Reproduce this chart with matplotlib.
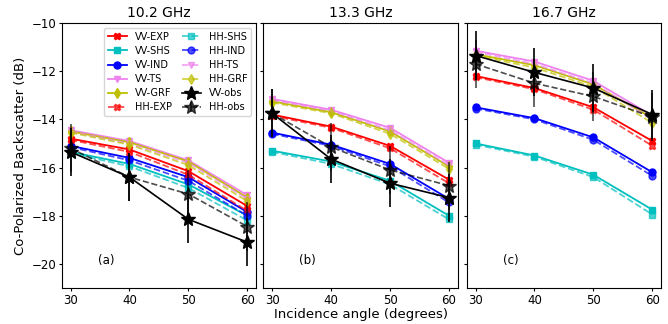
import matplotlib
matplotlib.use("Agg")
import matplotlib.pyplot as plt

# incidence angles and frequencies
angles = [30, 40, 50, 60]
freqs = ["10.2 GHz", "13.3 GHz", "16.7 GHz"]
panel_tags = ["(a)", "(b)", "(c)"]

# backscatter (dB), one row per frequency
VV_EXP = [[-14.8, -15.25, -16.15, -17.6], [-13.8, -14.3, -15.1, -16.5], [-12.2, -12.7, -13.5, -14.9]]
VV_SHS = [[-15.35, -15.85, -16.7, -18.0], [-15.3, -15.75, -16.55, -18.0], [-15.0, -15.5, -16.3, -17.75]]
VV_IND = [[-15.1, -15.6, -16.4, -17.85], [-14.55, -15.05, -15.85, -17.3], [-13.5, -13.95, -14.75, -16.2]]
VV_TS = [[-14.45, -14.9, -15.7, -17.15], [-13.15, -13.6, -14.35, -15.8], [-11.15, -11.6, -12.4, -13.85]]
VV_GRF = [[-14.5, -14.95, -15.75, -17.25], [-13.25, -13.7, -14.5, -15.95], [-11.3, -11.75, -12.55, -13.95]]
HH_EXP = [[-14.85, -15.35, -16.3, -17.8], [-13.85, -14.35, -15.2, -16.65], [-12.25, -12.75, -13.6, -15.1]]
HH_SHS = [[-15.4, -15.95, -16.85, -18.2], [-15.35, -15.85, -16.7, -18.15], [-15.05, -15.55, -16.4, -17.95]]
HH_IND = [[-15.15, -15.7, -16.55, -18.0], [-14.6, -15.1, -15.95, -17.45], [-13.55, -14.0, -14.85, -16.35]]
HH_TS = [[-14.5, -15.0, -15.8, -17.3], [-13.2, -13.65, -14.45, -15.9], [-11.2, -11.7, -12.5, -14.0]]
HH_GRF = [[-14.55, -15.05, -15.9, -17.4], [-13.3, -13.75, -14.6, -16.05], [-11.35, -11.85, -12.65, -14.15]]
VV_obs = [[-15.35, -16.4, -18.15, -19.1], [-13.75, -15.65, -16.65, -17.25], [-11.35, -12.05, -12.7, -13.8]]
HH_obs = [[-15.2, -16.4, -17.1, -18.45], [-13.75, -15.15, -16.1, -16.75], [-11.7, -12.5, -13.05, -13.9]]
obs_err = [1.0, 1.0, 1.0, 1.0]

models = [
    ("VV-EXP", VV_EXP, "r", "X", "-"),
    ("VV-SHS", VV_SHS, "c", "s", "-"),
    ("VV-IND", VV_IND, "b", "o", "-"),
    ("VV-TS", VV_TS, "violet", "v", "-"),
    ("VV-GRF", VV_GRF, "y", "d", "-"),
    ("HH-EXP", HH_EXP, "r", "X", "--"),
    ("HH-SHS", HH_SHS, "c", "s", "--"),
    ("HH-IND", HH_IND, "b", "o", "--"),
    ("HH-TS", HH_TS, "violet", "v", "--"),
    ("HH-GRF", HH_GRF, "y", "d", "--"),
]

fig = plt.figure(figsize=(6.68, 3.24), dpi=100)
lefts = [61.7, 263.3, 466.7]
w = 194.5
axes = []
for i, l in enumerate(lefts):
    ax = fig.add_axes([l / 668, 36 / 324, w / 668, 265 / 324],
                      sharey=axes[0] if axes else None)
    axes.append(ax)

for i, ax in enumerate(axes):
    for name, vals, col, mk, ls in models:
        alpha = 0.7 if ls == "--" else 1.0
        ax.plot(angles, vals[i], color=col, marker=mk, linestyle=ls,
                markersize=5, lw=1.3, alpha=alpha, label=name)
    ax.errorbar(angles, VV_obs[i], yerr=obs_err, color="k", marker="*",
                linestyle="-", markersize=10, lw=1.2, label="VV-obs")
    ax.errorbar(angles, HH_obs[i], yerr=obs_err, color="k", marker="*",
                linestyle="--", markersize=10, lw=1.2, alpha=0.7, label="HH-obs")
    ax.set_title(freqs[i], fontsize=10, pad=4)
    ax.text(36, -19.85, panel_tags[i], ha="center", va="center", fontsize=8.5)
    ax.set_xticks(angles)
    ax.tick_params(labelsize=8.5, length=2.5, pad=1.5)
    if i > 0:
        ax.tick_params(labelleft=False)

axes[0].set_ylim(-21, -10)
axes[0].set_yticks([-10, -12, -14, -16, -18, -20])
axes[0].set_ylabel("Co-Polarized Backscatter (dB)", fontsize=9.5, labelpad=3)
axes[1].set_xlabel("Incidence angle (degrees)", fontsize=9.5, labelpad=1)
axes[0].legend(loc="upper right", ncol=2, fontsize=7, handlelength=2.0,
               columnspacing=1.0, labelspacing=0.42, borderpad=0.4)

fig.savefig("out.png", dpi=100)
